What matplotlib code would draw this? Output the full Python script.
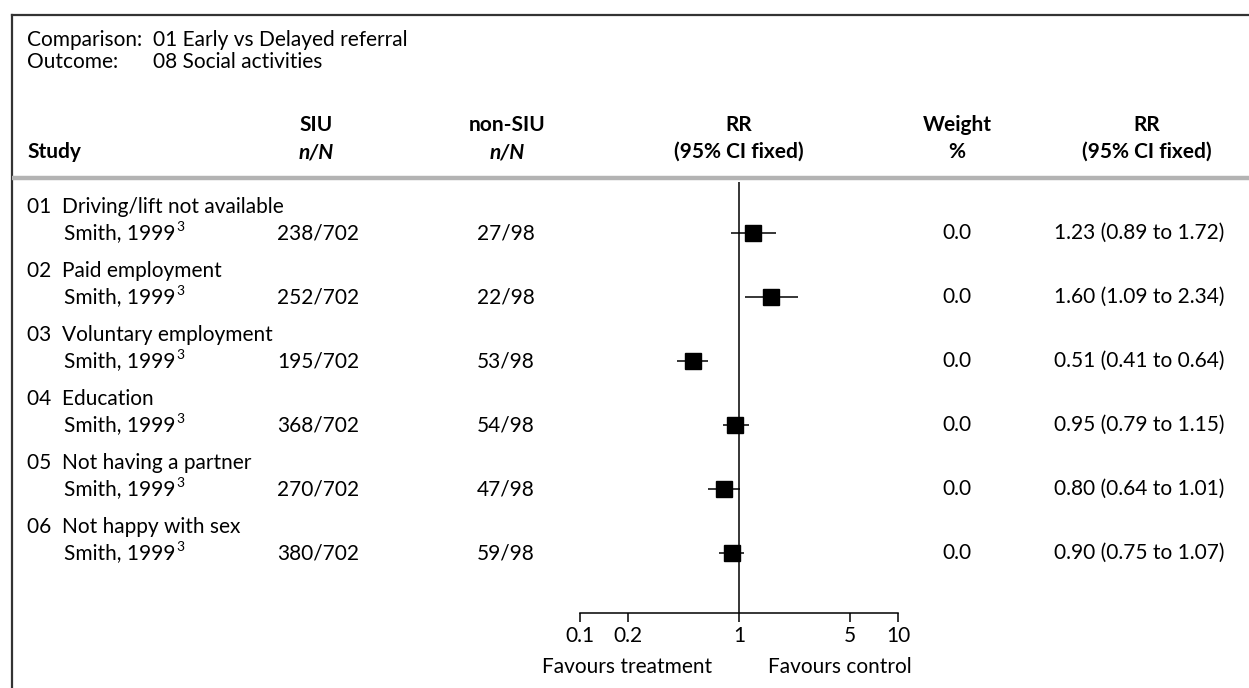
import numpy as np
import matplotlib
matplotlib.use("Agg")
import matplotlib.pyplot as plt

plt.rcParams['font.family'] = ['Lato', 'DejaVu Sans']

comparison = "01 Early vs Delayed referral"
outcome = "08 Social activities"
groups = ["01  Driving/lift not available", "02  Paid employment", "03  Voluntary employment",
          "04  Education", "05  Not having a partner", "06  Not happy with sex"]
study = "Smith, 1999"
siu = ["238/702", "252/702", "195/702", "368/702", "270/702", "380/702"]
nonsiu = ["27/98", "22/98", "53/98", "54/98", "47/98", "59/98"]
rr = [1.23, 1.60, 0.51, 0.95, 0.80, 0.90]
lo = [0.89, 1.09, 0.41, 0.79, 0.64, 0.75]
hi = [1.72, 2.34, 0.64, 1.15, 1.01, 1.07]
weight = ["0.0"] * 6
ticks = [0.1, 0.2, 1, 5, 10]
tick_labels = ["0.1", "0.2", "1", "5", "10"]

W, H = 1249, 688
fig = plt.figure(figsize=(W / 100, H / 100), dpi=100)

# background axes in pixel coords for the table text
bg = fig.add_axes([0, 0, 1, 1])
bg.set_xlim(0, W)
bg.set_ylim(H, 0)
bg.axis('off')

fs = 15
# frame (left + top only)
bg.plot([12, 12], [H, 15], color='#333333', lw=1.6)
bg.plot([12, W], [15, 15], color='#333333', lw=1.6)

bg.text(27, 40, "Comparison:", fontsize=fs, va='center')
bg.text(153, 40, comparison, fontsize=fs, va='center')
bg.text(27, 62, "Outcome:", fontsize=fs, va='center')
bg.text(153, 62, outcome, fontsize=fs, va='center')

# headers
h1, h2 = 125, 152
bg.text(27, h2, "Study", fontsize=fs, fontweight='bold', va='center')
cols = [(316, "SIU"), (507, "non-SIU"), (739, "RR"), (957, "Weight"), (1147, "RR")]
for x, t in cols:
    bg.text(x, h1, t, fontsize=fs, fontweight='bold', va='center', ha='center')
bg.text(316, h2, "n/N", fontsize=fs, fontweight='bold', style='italic', va='center', ha='center')
bg.text(507, h2, "n/N", fontsize=fs, fontweight='bold', style='italic', va='center', ha='center')
bg.text(739, h2, "(95% CI fixed)", fontsize=fs, fontweight='bold', va='center', ha='center')
bg.text(957, h2, "%", fontsize=fs, fontweight='bold', va='center', ha='center')
bg.text(1147, h2, "(95% CI fixed)", fontsize=fs, fontweight='bold', va='center', ha='center')
bg.plot([12, W], [178, 178], color='#b3b3b3', lw=3.2, solid_capstyle='butt')

# rows
for i in range(len(groups)):
    y = 233 + 64 * i
    bg.text(27, y - 26, groups[i], fontsize=fs, va='center')
    t = bg.text(64, y, study, fontsize=fs, va='center')
    bg.annotate("3", xy=(1, 1), xycoords=t, xytext=(0.5, 1.5), textcoords='offset points',
                fontsize=10, va='top', ha='left')
    bg.text(318, y, siu[i], fontsize=fs, va='center', ha='center')
    bg.text(506, y, nonsiu[i], fontsize=fs, va='center', ha='center')
    bg.text(957, y, weight[i], fontsize=fs, va='center', ha='center')
    bg.text(1139, y, "%.2f (%.2f to %.2f)" % (rr[i], lo[i], hi[i]), fontsize=fs,
            va='center', ha='center')

bg.text(627, 667, "Favours treatment", fontsize=fs, va='center', ha='center')
bg.text(840, 667, "Favours control", fontsize=fs, va='center', ha='center')

# forest axes
top, bottom = 182, 613
ax = fig.add_axes([580 / W, 1 - bottom / H, 318 / W, (bottom - top) / H])
ax.set_xscale('log')
ax.set_xlim(0.1, 10)
idx = np.arange(len(rr))
ax.set_ylim((bottom - 233) / 64, (top - 233) / 64)
ax.patch.set_alpha(0)
for s in ['top', 'left', 'right']:
    ax.spines[s].set_visible(False)
ax.spines['bottom'].set_linewidth(1.1)
ax.axvline(1, color='black', lw=1.1)
ax.hlines(idx, lo, hi, color='black', lw=1.1)
ax.plot(rr, idx, 's', color='black', markersize=12)
ax.set_yticks([])
ax.set_xticks(ticks)
ax.set_xticklabels(tick_labels, fontsize=fs)
ax.xaxis.set_minor_locator(matplotlib.ticker.NullLocator())
ax.tick_params(axis='x', direction='out', length=6.5, width=1.1, pad=3)

fig.savefig("out.png", dpi=100)
